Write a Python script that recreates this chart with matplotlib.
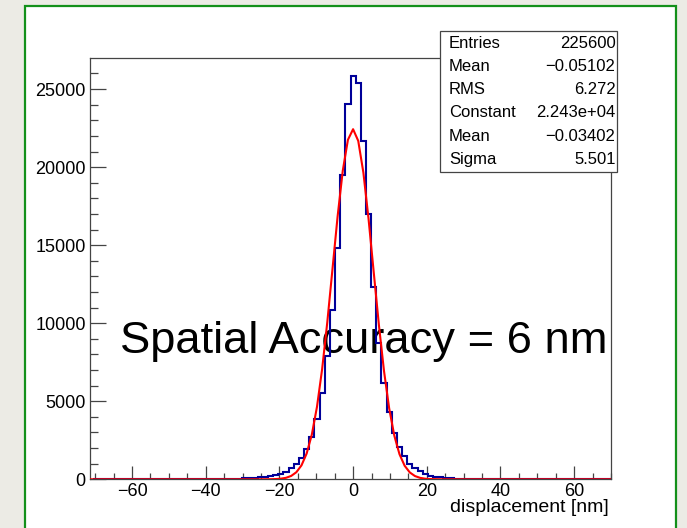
import numpy as np
import matplotlib
matplotlib.use("Agg")
import matplotlib.pyplot as plt
from matplotlib.patches import Rectangle

plt.rcParams['font.family'] = ['Liberation Sans', 'DejaVu Sans']

# histogram, 1.4 nm bins centred on multiples of 1.4; only filled bins listed
x_range = (-71.4, 70.0)
hist_range = (-70.7, 70.7)
bin_width = 1.4
first_filled_edge = -32.9
counts = [30, 50, 70, 90, 110, 130, 170, 200, 250, 340, 490, 700, 980, 1350,
          1945, 2700, 3870, 5520, 7920, 10870, 14830, 19490, 24030,
          25810,
          25360, 21670, 16970, 12330, 8730, 6200, 4340, 2950, 2090, 1515, 980,
          745, 550, 340, 210, 160, 120, 90, 70, 50, 40, 30, 20, 15]

# gaus fit parameters (from the stats box)
fit_const = 22430
fit_mean = -0.03402
fit_sigma = 5.501

stats_names = ["Entries", "Mean", "RMS", "Constant", "Mean", "Sigma"]
stats_values = ["225600", "\u22120.05102", "6.272", "2.243e+04", "\u22120.03402", "5.501"]

yticks = [0, 5000, 10000, 15000, 20000, 25000]
xticks = [-60, -40, -20, 0, 20, 40, 60]

W, H = 687, 528
fig = plt.figure(figsize=(W / 100, H / 100), dpi=100, facecolor='#ecebe5')

# white canvas with the green frame
fig.patches.append(Rectangle((25 / W, -0.02), (676 - 25) / W, 1.02 - 5.5 / H,
                             transform=fig.transFigure, facecolor='white',
                             edgecolor='#13901a', lw=1.6, zorder=-5))

ax = fig.add_axes([90 / W, 1 - 479.3 / H, (611 - 90) / W, (479.3 - 58) / H])
ax.set_facecolor('none')

nbins = int(round((hist_range[1] - hist_range[0]) / bin_width))
edges = hist_range[0] + bin_width * np.arange(nbins + 1)
full = np.zeros(nbins)
start = int(round((first_filled_edge - hist_range[0]) / bin_width))
full[start:start + len(counts)] = counts
ax.stairs(full, edges, color='#000099', lw=1.5, zorder=2)

xf = np.linspace(x_range[0], x_range[1], 102)
ax.plot(xf, fit_const * np.exp(-0.5 * ((xf - fit_mean) / fit_sigma) ** 2),
        color='#ff0000', lw=1.5, zorder=3)

ax.set_xlim(*x_range)
ax.set_ylim(0, 26990)
ax.set_xticks(xticks)
ax.set_xticks(np.arange(-70, 71, 5), minor=True)
ax.set_yticks(yticks)
ax.set_yticks(np.arange(0, 27000, 1000), minor=True)
ax.set_yticklabels([str(v) for v in yticks])
ax.set_xticklabels([str(v).replace('-', '\u2212') for v in xticks])

for s in ax.spines.values():
    s.set_color('#444444')
    s.set_linewidth(0.9)
ax.tick_params(axis='x', which='major', direction='in', length=9.1, width=0.9,
               color='#444444', labelsize=13, pad=3)
ax.tick_params(axis='x', which='minor', direction='in', length=4.5, width=0.9,
               color='#444444')
ax.tick_params(axis='y', which='major', direction='in', length=11.2, width=0.9,
               color='#444444', labelsize=13, pad=3)
ax.tick_params(axis='y', which='minor', direction='in', length=5.6, width=0.9,
               color='#444444')

fig.text(609 / W, 1 - 512.5 / H, "displacement [nm]", ha='right', va='baseline',
         fontsize=14)

ax.text(120 / W, 1 - 353.3 / H, "Spatial Accuracy = 6 nm", transform=fig.transFigure,
        ha='left', va='baseline', fontsize=32.7, zorder=1)

# stats box
fig.patches.append(Rectangle((440 / W, 1 - 172.3 / H), 177.3 / W, 141.3 / H,
                             transform=fig.transFigure, facecolor='white',
                             edgecolor='#444444', lw=0.9, zorder=5))
for i, (name, val) in enumerate(zip(stats_names, stats_values)):
    y = 1 - (43.3 + 23.2 * i) / H
    fig.text(449 / W, y, name, ha='left', va='center', fontsize=12, zorder=6)
    fig.text(615.5 / W, y, val, ha='right', va='center', fontsize=12, zorder=6)

fig.savefig("out.png", dpi=100, facecolor=fig.get_facecolor())
